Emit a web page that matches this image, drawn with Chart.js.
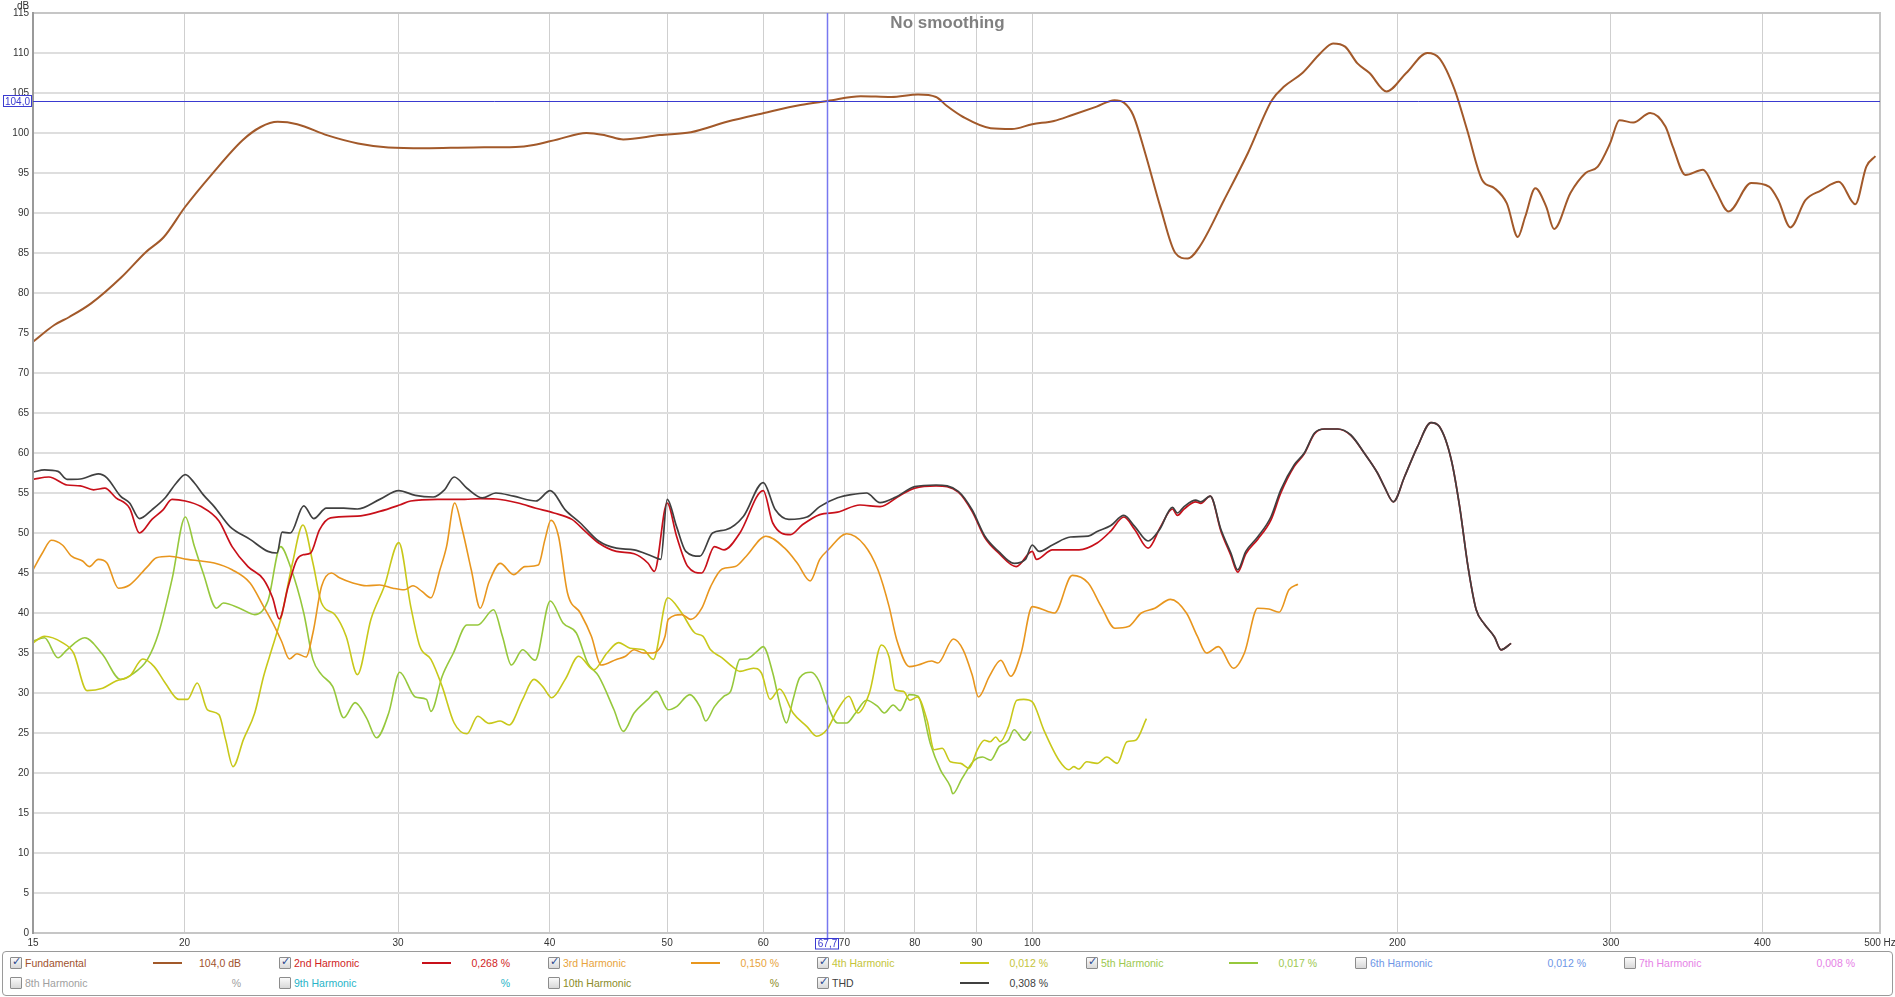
<!DOCTYPE html>
<html>
<head>
<meta charset="utf-8">
<script src="https://cdn.jsdelivr.net/npm/chart.js@4.4.1/dist/chart.umd.min.js"></script>
<style>
  html, body { margin: 0; padding: 0; background: #ffffff; }
  body { width: 1895px; height: 997px; position: relative; overflow: hidden; font-family: "Liberation Sans", Arial, sans-serif; }
  #wrap { position: absolute; left: 0; top: 0; width: 1895px; height: 950px; }
  #legend { position: absolute; left: 2px; top: 951px; width: 1889px; height: 43px; border: 1px solid #9a9a9a; border-radius: 4px; }
  .lg { position: absolute; font-size: 10.5px; line-height: 14px; white-space: nowrap; }
  .cb { position: absolute; width: 10px; height: 10px; border: 1px solid #8c8c8c; background: linear-gradient(#fafafa, #d8d8d8); border-radius: 1px; }
  .cb span { position: absolute; left: 1px; top: -3px; font-size: 11px; font-weight: bold; color: #2a4890; font-family: "DejaVu Sans", sans-serif; }
  .ls { position: absolute; height: 2px; width: 29px; }
</style>
</head>
<body>
<div id="wrap"><canvas id="c" width="1895" height="950" style="width:1895px;height:950px;"></canvas></div>
<div id="legend"></div>
<script>
// ---------------- data ----------------
const xTickValues = [15, 20, 30, 40, 50, 60, 70, 80, 90, 100, 200, 300, 400, 500];
const yTickValues = [0, 5, 10, 15, 20, 25, 30, 35, 40, 45, 50, 55, 60, 65, 70, 75, 80, 85, 90, 95, 100, 105, 110, 115];
const cursorHz = 67.7;
const cursorDb = 104.0;
const cursorHzLabel = "67,7";
const cursorDbLabel = "104,0";
const titleText = "No smoothing";

const fundamental = [[15.0,73.9],[15.62,76.0],[16.07,77.0],[16.75,78.7],[17.75,82.0],[18.58,85.1],[19.23,87.0],[20.02,90.75],[21.08,94.9],[22.33,99.1],[23.11,100.75],[23.87,101.4],[24.77,101.1],[26.24,99.7],[27.8,98.7],[29.45,98.2],[31.56,98.1],[34.6,98.2],[37.5,98.25],[38.8,98.5],[40.6,99.2],[42.9,100.0],[44.5,99.7],[46.0,99.2],[49.3,99.75],[52.3,100.1],[56.0,101.4],[60.1,102.5],[64.4,103.5],[67.8,104.0],[72.2,104.6],[76.5,104.5],[80.5,104.8],[83.3,104.5],[85.0,103.4],[87.7,102.0],[92.4,100.6],[96.2,100.5],[100,101.1],[104.2,101.5],[107.9,102.25],[113,103.3],[116.9,104.1],[119,103.8],[121.1,102.25],[123.9,97.5],[127.5,90.8],[131.2,85.0],[134.3,84.3],[137.4,85.8],[143.9,91.6],[150.6,97.5],[157.6,104.1],[161.3,105.8],[167,107.5],[172.9,110.0],[177,111.2],[181.1,110.8],[185.4,108.7],[189.7,107.5],[195.9,105.2],[203.4,107.5],[211.7,110.0],[216.7,109.3],[223,105.4],[228.3,100.4],[235,94.1],[240.5,93.1],[246.2,91.2],[251.4,87.0],[254.9,89.5],[259.9,93.1],[265.3,90.8],[269.3,88.0],[277.8,92.5],[285.9,95.0],[292.6,95.8],[299.5,98.7],[304.9,101.6],[313,101.3],[323.2,102.5],[332.7,100.8],[337.4,98.3],[345.6,94.75],[357.3,95.4],[365.7,92.9],[375.1,90.2],[391.5,93.75],[405,93.3],[412.2,91.6],[421.8,88.2],[434,91.6],[446.8,92.8],[462.5,93.9],[477.1,91.1],[487.2,95.8],[495.7,97.1]];

const harmonic2 = [[15.0,56.7],[15.46,57.0],[16.0,56.0],[16.41,55.9],[16.83,55.4],[17.19,55.6],[17.56,54.4],[18.02,53.1],[18.36,50.0],[18.8,51.7],[19.2,52.9],[19.53,54.2],[20.03,54.0],[20.64,53.3],[21.35,51.5],[21.89,48.3],[22.56,45.8],[23.24,44.2],[23.64,41.9],[23.94,39.25],[24.35,43.3],[24.76,46.7],[25.08,47.3],[25.41,47.5],[25.84,50.4],[26.39,51.9],[27.77,52.1],[28.97,52.7],[30.09,53.5],[30.73,54.0],[32.34,54.2],[34.04,54.2],[35.06,54.3],[36.12,54.25],[37.68,53.75],[38.97,53.1],[40.33,52.5],[41.73,51.7],[42.8,50.2],[43.9,48.75],[45.4,47.7],[46.96,47.4],[48.2,46.25],[48.8,45.2],[50.0,53.75],[50.9,49.6],[52.0,45.8],[53.4,45.0],[54.7,48.3],[55.7,47.9],[57.4,50.0],[60.0,55.3],[61.1,51.25],[63.2,49.8],[64.6,51.0],[66.8,52.3],[69.1,52.6],[72.1,53.5],[74.9,53.3],[77.8,54.7],[80.0,55.6],[83.3,55.9],[86.9,55.1],[89.2,52.7],[91.4,49.4],[93.8,47.5],[97.0,45.8],[100.0,47.7],[100.8,46.7],[103.9,47.9],[109.3,47.9],[113.1,48.75],[116.0,50.2],[119.0,52.0],[121.5,50.4],[124.6,48.1],[127.6,50.8],[130.5,53.0],[131.7,52.2],[133.4,53.0],[136.4,53.9],[137.7,53.7],[140.2,54.6],[143.1,50.2],[145.8,47.2],[147.7,45.1],[150.0,47.4],[153.4,49.2],[157.3,51.6],[160.3,55.0],[164.4,58.3],[167.6,59.9],[170.9,62.4],[174.2,63.0],[178.6,63.0],[183.1,62.2],[187.8,60.0],[192.6,57.5],[195.1,55.8],[198.5,53.9],[202.7,57.0],[207.8,60.8],[213.2,63.8],[216.6,63.3],[221.6,59.1],[225.1,53.3],[228.7,45.8],[232.3,40.4],[236.0,38.6],[240.5,37.0],[243.5,35.4],[248.2,36.2]];

const harmonic3 = [[15.0,45.4],[15.27,47.5],[15.53,49.1],[15.86,48.5],[16.14,47.1],[16.48,46.5],[16.69,45.8],[16.98,46.7],[17.26,46.25],[17.64,43.1],[18.02,43.5],[18.64,45.8],[18.96,46.9],[19.44,47.1],[20.11,46.7],[20.64,46.5],[21.16,46.25],[21.89,45.4],[22.65,43.75],[23.24,40.8],[23.73,38.3],[24.04,36.5],[24.41,34.25],[24.76,34.9],[25.19,34.5],[25.52,37.5],[25.94,43.3],[26.43,45.0],[26.84,44.4],[27.53,43.75],[28.25,43.4],[28.97,43.5],[29.71,43.1],[30.35,42.9],[30.86,43.4],[31.39,42.7],[31.93,41.9],[32.48,45.4],[32.89,48.3],[33.4,53.75],[33.89,50.4],[34.47,45.4],[35.06,40.6],[35.66,43.9],[36.42,46.2],[37.36,44.8],[38.16,45.8],[39.15,46.0],[39.65,49.2],[40.1,51.6],[40.68,49.6],[41.38,42.5],[42.4,40.0],[43.3,37.1],[44.1,33.5],[45.4,34.2],[46.2,34.6],[46.96,35.4],[47.8,35.0],[48.6,35.0],[49.8,37.1],[50.1,39.2],[51.4,39.8],[52.3,39.2],[53.4,40.6],[54.3,43.3],[55.5,45.5],[56.9,45.8],[58.1,47.1],[60.3,49.6],[62.5,48.1],[64.0,46.25],[65.6,44.0],[66.8,46.7],[67.9,47.9],[70.3,49.9],[72.7,48.5],[74.6,45.4],[76.2,40.8],[77.3,36.7],[79.2,33.3],[80.5,33.5],[82.6,34.0],[83.6,33.75],[86.1,36.75],[87.7,35.4],[89.2,32.3],[90.3,29.5],[92.2,32.1],[94.2,34.1],[96.0,32.1],[97.9,35.0],[100.0,40.8],[103.0,40.2],[104.3,40.0],[107.9,44.7],[111.2,43.75],[114.0,40.8],[117.0,38.1],[120.0,38.3],[123.0,40.0],[126.2,40.6],[130.0,41.7],[134.0,40.0],[136.8,37.1],[139.2,35.0],[142.4,35.8],[146.5,33.1],[149.6,35.0],[153.4,40.6],[156.7,40.5],[159.8,40.1],[162.8,42.9],[165.6,43.6]];

const harmonic4 = [[15.0,36.25],[15.33,37.1],[15.86,36.3],[16.2,35.0],[16.62,30.3],[17.12,30.6],[17.56,31.5],[18.02,32.1],[18.48,34.25],[18.88,33.3],[19.28,31.25],[19.78,29.2],[20.11,29.2],[20.49,31.25],[20.89,27.9],[21.35,27.3],[21.62,24.2],[21.93,20.8],[22.37,24.2],[22.85,27.5],[23.24,32.1],[23.64,35.8],[24.04,39.6],[24.55,46.25],[25.04,51.0],[25.52,46.25],[25.94,41.25],[26.6,39.8],[27.18,37.1],[27.77,32.3],[28.49,39.2],[29.22,43.3],[30.04,48.8],[30.73,40.8],[31.27,35.8],[31.93,34.2],[32.62,30.8],[33.37,26.25],[34.19,24.9],[34.9,27.1],[35.66,26.2],[36.42,26.5],[37.04,26.0],[38.0,29.2],[38.82,31.7],[39.48,30.8],[40.16,29.4],[41.2,31.7],[42.26,34.6],[43.5,32.9],[44.6,35.0],[45.6,36.3],[46.6,35.6],[47.8,35.4],[48.7,34.2],[50.05,41.9],[51.4,40.0],[52.7,37.5],[53.5,37.1],[54.3,35.4],[55.5,34.4],[56.6,33.3],[57.4,32.7],[58.9,33.1],[59.8,32.5],[60.8,29.2],[61.9,30.5],[63.5,27.5],[65.2,25.8],[66.4,24.6],[67.7,25.4],[69.1,27.9],[70.6,29.6],[71.8,27.5],[73.4,30.0],[75.1,36.0],[76.2,34.5],[77.1,30.4],[78.3,30.2],[79.3,29.1],[80.4,29.5],[81.9,26.6],[83.0,22.9],[84.3,23.1],[85.6,21.4],[87.3,21.2],[88.7,20.6],[90.1,22.9],[91.3,24.1],[92.3,23.9],[93.3,24.5],[94.1,23.9],[95.6,25.8],[97.1,29.1],[98.4,29.2],[100.0,28.9],[102.2,25.4],[105.2,21.6],[107.2,20.4],[108.2,20.8],[109.2,20.5],[110.9,21.4],[113.1,21.2],[115.2,22.0],[117.5,21.2],[119.7,23.9],[121.7,24.1],[124.2,26.8]];

const harmonic5 = [[15.0,36.5],[15.33,36.9],[15.73,34.4],[16.0,35.4],[16.55,36.9],[17.12,34.8],[17.71,31.7],[18.09,32.3],[18.64,34.2],[19.04,37.5],[19.53,44.2],[20.03,52.0],[20.38,48.3],[20.72,45.0],[21.25,40.6],[21.53,41.25],[22.27,40.5],[22.85,39.8],[23.43,41.5],[24.0,48.3],[24.45,45.8],[25.08,40.0],[25.52,34.2],[25.94,32.3],[26.5,30.8],[27.06,26.9],[27.65,28.8],[28.25,26.9],[28.8,24.4],[29.47,27.5],[30.09,32.6],[31.0,29.5],[31.66,29.2],[31.93,27.7],[32.62,32.1],[33.32,35.0],[34.19,38.5],[34.9,38.5],[35.96,40.4],[36.57,37.1],[37.2,33.5],[38.0,35.4],[38.91,34.1],[40.05,41.5],[41.03,38.75],[42.08,37.5],[43.0,33.75],[43.9,32.1],[45.2,27.9],[46.0,25.2],[46.96,27.5],[48.2,29.2],[49.0,30.2],[50.1,27.9],[50.9,28.3],[52.2,29.8],[53.2,28.3],[53.8,26.5],[54.7,28.3],[55.7,29.6],[56.4,30.2],[57.4,34.2],[58.1,34.25],[59.3,35.2],[60.0,35.8],[61.1,32.5],[62.0,28.3],[62.7,26.25],[63.5,29.2],[64.3,31.9],[65.7,32.6],[66.7,31.5],[67.7,28.75],[69.1,26.25],[70.3,26.25],[71.5,27.5],[73.0,29.1],[74.6,28.3],[75.5,27.5],[76.8,28.5],[77.8,27.8],[79.2,29.8],[80.5,29.6],[82.4,23.7],[84.0,20.4],[85.6,18.3],[86.0,17.4],[87.5,19.3],[89.6,21.6],[91.0,22.0],[92.4,21.6],[93.9,23.3],[95.6,24.1],[96.6,25.4],[98.5,24.1],[99.8,25.2]];

const thd = [[15.0,57.6],[15.33,57.9],[15.73,57.7],[16.0,56.7],[16.41,56.75],[16.98,57.4],[17.26,56.9],[17.71,54.6],[18.02,53.75],[18.36,51.8],[18.8,52.9],[19.28,54.4],[19.69,56.25],[20.03,57.3],[20.38,56.25],[20.72,54.8],[21.16,53.3],[21.8,50.8],[22.65,49.2],[23.43,47.7],[23.84,47.5],[24.07,50.1],[24.45,50.0],[25.08,53.4],[25.56,51.8],[26.18,53.1],[27.06,53.1],[27.77,53.0],[28.97,54.2],[30.04,55.3],[31.0,54.7],[32.07,54.5],[32.76,55.4],[33.37,57.0],[34.19,55.6],[35.2,54.4],[36.12,55.0],[37.36,54.6],[38.97,54.0],[40.05,55.3],[41.2,52.9],[42.4,51.25],[43.9,49.0],[45.4,48.1],[46.96,47.9],[48.6,47.1],[49.4,46.7],[50.0,54.2],[50.9,50.8],[51.8,47.7],[53.2,47.1],[54.5,50.0],[55.9,50.4],[57.8,52.1],[60.0,56.3],[61.4,52.9],[63.0,51.7],[65.2,52.0],[66.8,53.3],[69.1,54.4],[70.9,54.8],[73.0,55.0],[74.9,53.8],[77.2,54.5],[80.0,55.8],[83.3,56.0],[86.9,55.2],[89.2,52.9],[91.4,49.6],[93.8,47.7],[96.6,46.2],[98.7,46.7],[100.0,48.5],[101.3,47.7],[103.9,48.5],[107.5,49.5],[111.2,49.6],[113.1,50.2],[116.0,50.9],[119.0,52.2],[121.5,50.8],[124.6,49.0],[127.3,50.4],[130.5,53.2],[131.7,52.5],[133.4,53.3],[136.4,54.1],[137.7,53.9],[140.2,54.6],[143.1,50.4],[145.8,47.5],[147.7,45.4],[150.0,47.7],[153.4,49.5],[157.3,52.0],[160.3,55.4],[164.4,58.5],[167.6,60.0],[170.9,62.5],[174.2,63.0],[178.6,63.0],[183.1,62.25],[187.8,60.0],[192.6,57.5],[195.1,55.8],[198.5,53.9],[202.7,57.0],[207.8,60.8],[213.2,63.8],[216.6,63.3],[221.6,59.1],[225.1,53.3],[228.7,45.8],[232.3,40.4],[236.0,38.6],[240.5,37.0],[243.5,35.4],[248.2,36.2]];

// legend contents
const legendRow1Names  = ["Fundamental", "2nd Harmonic", "3rd Harmonic", "4th Harmonic", "5th Harmonic", "6th Harmonic", "7th Harmonic"];
const legendRow1Values = ["104,0 dB", "0,268 %", "0,150 %", "0,012 %", "0,017 %", "0,012 %", "0,008 %"];
const legendRow1Check  = [true, true, true, true, true, false, false];
const legendRow2Names  = ["8th Harmonic", "9th Harmonic", "10th Harmonic", "THD"];
const legendRow2Values = ["%", "%", "%", "0,308 %"];
const legendRow2Check  = [false, false, false, true];

// ---------------- styles ----------------
const lineColors = { fund: "#A2592A", h2: "#C8101A", h3: "#E8961E", h4: "#C8C81A", h5: "#96C83C", thd: "#404040" };
const row1TextColors = ["#A0522D", "#D01E1E", "#E8A33C", "#C4C43A", "#9CC850", "#6E96E6", "#E682E6"];
const row1LineColors = [lineColors.fund, lineColors.h2, lineColors.h3, lineColors.h4, lineColors.h5, null, null];
const row2TextColors = ["#A0A0A0", "#28B4C8", "#8C8C28", "#404040"];
const row2LineColors = [null, null, null, lineColors.thd];

const toPts = arr => arr.map(p => ({ x: p[0], y: p[1] }));
const ds = (label, arr, color, width, order) => ({
  label, data: toPts(arr), borderColor: color, borderWidth: width, pointRadius: 0,
  fill: false, cubicInterpolationMode: 'monotone', order
});

const overlay = {
  id: 'overlay',
  afterDatasetsDraw(chart) {
    const { ctx, chartArea: a, scales } = chart;
    const x = scales.x, y = scales.y;
    ctx.save();
    // frame
    ctx.strokeStyle = '#c6c6c6'; ctx.lineWidth = 2;
    ctx.beginPath();
    ctx.moveTo(a.left, a.top); ctx.lineTo(a.right, a.top); ctx.lineTo(a.right, a.bottom); ctx.lineTo(a.left, a.bottom);
    ctx.stroke();
    ctx.strokeStyle = '#9a9a9a'; ctx.lineWidth = 2;
    ctx.beginPath(); ctx.moveTo(a.left, a.top - 1); ctx.lineTo(a.left, a.bottom + 1); ctx.stroke();
    // cursor lines
    const cy = Math.round(y.getPixelForValue(cursorDb)) + 0.5;
    const cx = Math.round(x.getPixelForValue(cursorHz)) + 0.5;
    ctx.strokeStyle = '#3a3ad0'; ctx.lineWidth = 1;
    ctx.beginPath(); ctx.moveTo(a.left, cy); ctx.lineTo(a.right, cy); ctx.stroke();
    ctx.strokeStyle = '#7878f0'; ctx.lineWidth = 1.5;
    ctx.beginPath(); ctx.moveTo(cx, a.top); ctx.lineTo(cx, a.bottom + 5); ctx.stroke();
    // cursor labels
    ctx.font = '10px "Liberation Sans", Arial, sans-serif';
    ctx.textAlign = 'center'; ctx.textBaseline = 'middle';
    ctx.fillStyle = '#ffffff'; ctx.fillRect(3, cy - 6.5, 29, 12);
    ctx.strokeStyle = '#3a3ad0'; ctx.lineWidth = 1; ctx.strokeRect(3.5, cy - 6, 28, 11);
    ctx.fillStyle = '#3a3ad0'; ctx.fillText(cursorDbLabel, 17.5, cy + 0.5);
    ctx.fillStyle = '#ffffff'; ctx.fillRect(cx - 12.5, a.bottom + 5, 24, 11);
    ctx.strokeStyle = '#3a3ad0'; ctx.strokeRect(cx - 12, a.bottom + 5.5, 23, 10.5);
    ctx.fillStyle = '#3a3ad0'; ctx.fillText(cursorHzLabel, cx, a.bottom + 11);
    // axis unit
    ctx.fillStyle = '#333333'; ctx.fillText('dB', 23, 6);
    // title
    ctx.font = 'bold 17px "Liberation Sans", Arial, sans-serif';
    ctx.fillStyle = '#808080'; ctx.textBaseline = 'alphabetic';
    ctx.fillText(titleText, chart.width / 2, 28);
    ctx.restore();
  }
};

new Chart(document.getElementById('c'), {
  type: 'line',
  data: {
    datasets: [
      ds('Fundamental', fundamental, lineColors.fund, 2, 0),
      ds('THD', thd, lineColors.thd, 1.7, 1),
      ds('2nd Harmonic', harmonic2, lineColors.h2, 1.7, 2),
      ds('3rd Harmonic', harmonic3, lineColors.h3, 1.6, 3),
      ds('4th Harmonic', harmonic4, lineColors.h4, 1.6, 4),
      ds('5th Harmonic', harmonic5, lineColors.h5, 1.6, 5)
    ]
  },
  options: {
    responsive: false,
    animation: false,
    devicePixelRatio: 1,
    layout: { padding: { left: 0, right: 15, top: 13, bottom: 0 } },
    plugins: { legend: { display: false }, tooltip: { enabled: false }, title: { display: false } },
    scales: {
      x: {
        type: 'logarithmic', min: 15, max: 500,
        afterBuildTicks: s => { s.ticks = xTickValues.map(v => ({ value: v })); },
        afterFit: s => { s.height = 17; s.paddingLeft = 0; s.paddingRight = 0; },
        ticks: {
          autoSkip: false, maxRotation: 0, minRotation: 0, padding: 4,
          color: '#333333', font: { family: '"Liberation Sans", Arial, sans-serif', size: 10 },
          callback: v => (v === 500 ? '500 Hz' : String(v))
        },
        grid: { color: '#cfcfcf', lineWidth: 1, drawTicks: false },
        border: { display: false }
      },
      y: {
        type: 'linear', min: 0, max: 115,
        afterBuildTicks: s => { s.ticks = yTickValues.map(v => ({ value: v })); },
        afterFit: s => { s.width = 33; s.paddingTop = 0; s.paddingBottom = 0; },
        ticks: {
          padding: 4, color: '#333333', font: { family: '"Liberation Sans", Arial, sans-serif', size: 10 }
        },
        grid: { color: '#dedede', lineWidth: 2, drawTicks: false },
        border: { display: false }
      }
    }
  },
  plugins: [overlay]
});

// ---------------- legend (HTML) ----------------
const legend = document.getElementById('legend');
const colStarts = [10, 279, 548, 817, 1086, 1355, 1624];
function addItem(col, rowY, name, value, checked, textColor, lineColor) {
  const c = colStarts[col];
  const off = { x: 3, y: 952 };
  const cb = document.createElement('div');
  cb.className = 'cb';
  cb.style.left = (c - off.x) + 'px';
  cb.style.top = (rowY - 6 - off.y) + 'px';
  if (checked) { const s = document.createElement('span'); s.textContent = '✓'; cb.appendChild(s); }
  legend.appendChild(cb);
  const t = document.createElement('div');
  t.className = 'lg'; t.textContent = name; t.style.color = textColor;
  t.style.left = (c + 15 - off.x) + 'px'; t.style.top = (rowY - 7 - off.y) + 'px';
  legend.appendChild(t);
  if (lineColor) {
    const l = document.createElement('div');
    l.className = 'ls'; l.style.background = lineColor;
    l.style.left = (c + 143 - off.x) + 'px'; l.style.top = (rowY - 1 - off.y) + 'px';
    legend.appendChild(l);
  }
  const v = document.createElement('div');
  v.className = 'lg'; v.textContent = value; v.style.color = textColor;
  v.style.right = (1889 - (c + 231 - off.x)) + 'px'; v.style.top = (rowY - 7 - off.y) + 'px';
  legend.appendChild(v);
}
legendRow1Names.forEach((n, i) => addItem(i, 963, n, legendRow1Values[i], legendRow1Check[i], row1TextColors[i], row1LineColors[i]));
legendRow2Names.forEach((n, i) => addItem(i, 983, n, legendRow2Values[i], legendRow2Check[i], row2TextColors[i], row2LineColors[i]));
</script>
</body>
</html>
